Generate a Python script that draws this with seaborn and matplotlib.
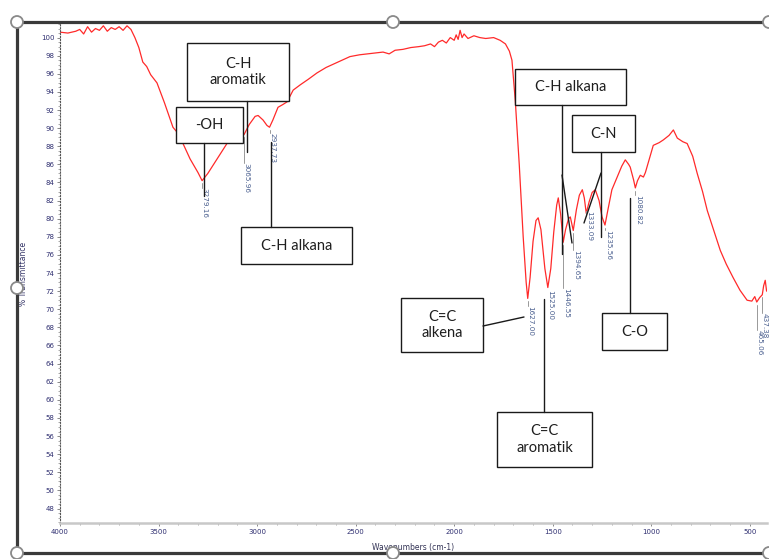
"""FTIR-spektrum med tolkade funktionella grupper (omritad skärmbild)."""
import matplotlib

matplotlib.use("Agg")
import matplotlib.pyplot as plt
import matplotlib.ticker as mticker
from matplotlib.patches import Circle, Rectangle
import pandas as pd
import seaborn as sns

# spektrum
WAVENUMBER = [
    4000, 3960, 3920, 3900, 3880, 3860, 3840, 3820, 3800, 3780, 3760, 3740,
    3720, 3700, 3680, 3660, 3640, 3620, 3600, 3580, 3560, 3540, 3508, 3470,
    3427, 3400, 3376, 3340, 3300, 3279, 3250, 3200, 3153, 3100, 3066, 3040,
    3010, 2995, 2970, 2950, 2937, 2920, 2894, 2870, 2848, 2817, 2780, 2740,
    2696, 2650, 2600, 2529, 2480, 2440, 2400, 2361, 2330, 2300, 2260, 2220,
    2180, 2150, 2120, 2100, 2080, 2060, 2040, 2020, 2000, 1990, 1980, 1970,
    1960, 1950, 1930, 1900, 1870, 1840, 1800, 1767, 1740, 1720, 1707, 1690,
    1670, 1650, 1635, 1627, 1615, 1600, 1585, 1574, 1560, 1540, 1525, 1510,
    1495, 1480, 1472, 1460, 1447, 1435, 1420, 1411, 1396, 1380, 1365, 1350,
    1340, 1330, 1315, 1300, 1284, 1265, 1250, 1235, 1220, 1200, 1173, 1150,
    1132, 1115, 1107, 1090, 1081, 1070, 1056, 1040, 1030, 1010, 990, 960,
    939, 910, 888, 868, 840, 818, 790, 767, 740, 716, 680, 650, 620, 585,
    550, 514, 490, 475, 465, 450, 437, 430, 422, 415,
]
TRANSMITTANCE = [
    100.6, 100.5, 100.7, 100.9, 100.4, 101.2, 100.6, 101.0, 100.8, 101.3, 100.7, 101.1,
    100.9, 101.2, 100.8, 101.3, 100.9, 100.0, 98.9, 97.3, 96.8, 95.9, 95.0, 92.8,
    90.1, 89.4, 88.3, 86.6, 85.1, 84.2, 85.0, 86.7, 88.3, 89.1, 89.3, 90.4,
    91.3, 91.4, 90.9, 90.3, 90.1, 90.9, 92.3, 92.6, 92.9, 94.2, 94.8, 95.4,
    96.1, 96.7, 97.2, 97.9, 98.1, 98.2, 98.3, 98.4, 98.2, 98.6, 98.7, 98.9,
    99.0, 99.1, 99.3, 99.0, 99.5, 99.7, 99.4, 100.0, 99.7, 100.3, 99.8, 100.8,
    100.0, 100.4, 99.9, 100.2, 100.0, 99.9, 100.0, 99.7, 99.3, 98.5, 97.5, 93.0,
    86.0, 78.0, 73.0, 71.2, 73.5, 77.5, 79.8, 80.1, 78.8, 74.5, 72.4, 74.5,
    78.5, 81.5, 82.3, 80.5, 77.4, 78.8, 80.0, 80.2, 78.7, 81.0, 82.6, 83.2,
    82.3, 80.6, 81.9, 82.9, 83.2, 82.0, 80.2, 79.3, 81.0, 83.2, 84.6, 85.8,
    86.5, 86.0, 85.7, 84.3, 83.4, 84.2, 84.8, 84.6, 85.1, 86.6, 88.1, 88.4,
    88.7, 89.2, 89.8, 88.9, 88.5, 88.3, 86.9, 85.0, 83.0, 80.9, 78.5, 76.5, 75.0, 73.5,
    72.1, 71.0, 70.9, 71.4, 70.8, 71.3, 71.6, 72.6, 73.2, 72.0,
]

# toppetiketter
PEAK_TEXT = ["3279.16", "3065.96", "2937.73", "1627.00", "1525.00", "1446.55",
             "1394.65", "1333.09", "1235.56", "1080.82", "465.06", "437.38"]
PEAK_WN = [3279, 3066, 2937, 1627, 1525, 1447, 1396, 1330, 1235, 1081, 465, 437]
PEAK_T = [84.2, 89.3, 90.1, 71.2, 72.4, 77.4, 78.7, 80.6, 79.3, 83.4, 70.8, 71.6]
LABEL_T = [83.4, 86.1, 89.5, 70.4, 72.1, 72.3, 76.5, 80.9, 78.7, 82.6, 67.7, 69.6]

# tolkningsrutor
GROUP_TEXT = ["-OH", "C-H\naromatik", "C-H alkana", "C-H alkana", "C-N",
              "C=C\nalkena", "C=C\naromatik", "C-O"]

# rutornas läge i bildpunkter (x0, y0, x1, y1) och deras linjer
BOXES = [
    (176, 107, 243, 143), (187, 43, 289, 101), (241, 227, 352, 264),
    (515, 69, 626, 105), (572, 115, 635, 152), (401, 298, 483, 352),
    (497, 412, 592, 467), (602, 313, 667, 350),
]
LEADERS = [
    [((204, 143), (204, 196))],
    [((247, 101), (247, 152))],
    [((271, 227), (271, 142))],
    [((562, 105), (562, 254)), ((562, 175), (572, 243))],
    [((601, 152), (601, 237)), ((601, 173), (584, 223))],
    [((483, 326), (524, 317))],
    [((544, 412), (544, 299))],
    [((630, 313), (630, 198))],
]

W, H = 769, 559


def main() -> None:
    sns.set_style("white")
    df = pd.DataFrame({"Wavenumber": WAVENUMBER, "Transmittance": TRANSMITTANCE})

    fig = plt.figure(figsize=(W / 100, H / 100), dpi=100)
    ax = fig.add_axes([60 / W, 1 - 523 / H, 707 / W, (523 - 24) / H])
    sns.lineplot(data=df, x="Wavenumber", y="Transmittance", color="#ff2a2a",
                 linewidth=0.9, estimator=None, sort=False, ax=ax)

    ax.set_xlim(4000, 413)
    ax.set_ylim(46.4, 101.5)
    ax.xaxis.set_major_locator(mticker.MultipleLocator(500))
    ax.xaxis.set_minor_locator(mticker.MultipleLocator(100))
    ax.yaxis.set_major_locator(mticker.MultipleLocator(2))
    ax.yaxis.set_minor_locator(mticker.MultipleLocator(0.5))
    ax.tick_params(axis="both", which="major", labelsize=5, labelcolor="#2e2e70",
                   length=2.5, width=0.6, color="#777777", pad=1.5, direction="out")
    ax.tick_params(axis="both", which="minor", length=1.5, width=0.5,
                   color="#888888", direction="out")
    ax.tick_params(left=True, bottom=True)
    ax.tick_params(axis="both", which="minor", left=True, bottom=True)
    for side in ("top", "right"):
        ax.spines[side].set_visible(False)
    ax.spines["left"].set_linestyle(":")
    ax.spines["left"].set_color("#555555")
    ax.spines["left"].set_linewidth(0.8)
    ax.spines["bottom"].set_color("#c8c8c8")
    ax.spines["bottom"].set_linewidth(1.8)
    ax.set_xlabel("Wavenumbers (cm-1)", fontsize=5.5, color="#333355", labelpad=6)
    ax.set_ylabel("% Transmittance", fontsize=5.5, color="#333366", labelpad=9)

    for text, wn, tp, tl in zip(PEAK_TEXT, PEAK_WN, PEAK_T, LABEL_T):
        ax.plot([wn, wn], [tp - 0.3, tl], color="#999999", linewidth=0.7)
        ax.text(wn - 14, tl, text, rotation=270, fontsize=5.2, color="#4a5f8f",
                ha="center", va="top", clip_on=False)

    # överlägg i bildpunkter: tolkningsrutor och markeringsram
    ov = fig.add_axes([0, 0, 1, 1], zorder=5)
    ov.set_xlim(0, W)
    ov.set_ylim(H, 0)
    ov.axis("off")
    ov.patch.set_alpha(0)

    for text, (x0, y0, x1, y1), lines in zip(GROUP_TEXT, BOXES, LEADERS):
        ov.add_patch(Rectangle((x0, y0), x1 - x0, y1 - y0, facecolor="white",
                               edgecolor="#1a1a1a", linewidth=1.0))
        ov.text((x0 + x1) / 2, (y0 + y1) / 2, text, ha="center", va="center",
                fontsize=10.5, family=["Lato", "DejaVu Sans"], color="#1e1e1e",
                linespacing=1.25)
        for (xa, ya), (xb, yb) in lines:
            ov.plot([xa, xb], [ya, yb], color="#1a1a1a", linewidth=1.0)

    frame = dict(color="#3a3a3a", linewidth=2.3, solid_capstyle="butt")
    ov.plot([17, 17], [22, 553], **frame)
    ov.plot([17, W], [22, 22], **frame)
    ov.plot([17, W], [553, 553], **frame)
    for cx, cy in [(17, 22), (393, 22), (769, 22), (17, 288),
                   (17, 553), (393, 553), (769, 553)]:
        ov.add_patch(Circle((cx, cy), 6, facecolor="white", edgecolor="#8a8a8a",
                            linewidth=1.3, zorder=6))

    fig.savefig("out.png", dpi=100)
    plt.close(fig)


if __name__ == "__main__":
    main()
